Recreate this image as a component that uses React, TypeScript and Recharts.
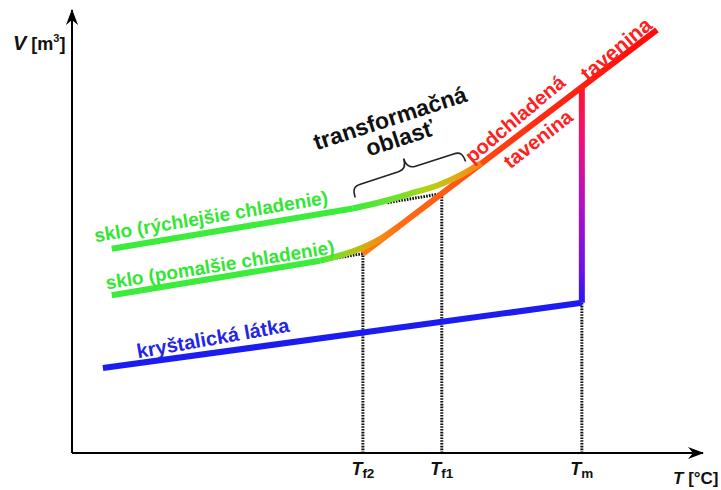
import React from 'react';
import { ComposedChart, Line, XAxis, YAxis, ReferenceDot } from 'recharts';

const FONT = '"Liberation Sans", Arial, Helvetica, sans-serif';

// ---- data (T in relative units, V in relative units) ----
const fastGlass = [
  { t: 6.3, v: 46.1 },
  { t: 44.5, v: 55.2 },
];
const fastCurve = [
  { t: 44.5, v: 55.2 },
  { t: 48.8, v: 56.6 },
  { t: 53.5, v: 58.5 },
  { t: 58.6, v: 60.8 },
  { t: 61.8, v: 62.9 },
  { t: 64.8, v: 65.4 },
];
const slowGlass = [
  { t: 6.3, v: 35.6 },
  { t: 39.3, v: 43.4 },
];
const slowCurve = [
  { t: 39.3, v: 43.4 },
  { t: 42.5, v: 44.6 },
  { t: 46.1, v: 46.4 },
  { t: 48.8, v: 48.3 },
  { t: 51.6, v: 51.0 },
];
const meltLine = [
  { t: 46.1, v: 45.0 },
  { t: 92.7, v: 95.5 },
];
const crystal = [
  { t: 4.9, v: 19.2 },
  { t: 80.8, v: 33.9 },
];
const meltingJump = [
  { t: 80.8, v: 33.9 },
  { t: 80.8, v: 82.6 },
];
const dropTf2 = [
  { t: 46.1, v: 0 },
  { t: 46.1, v: 45.0 },
];
const dropTf1 = [
  { t: 58.6, v: 0 },
  { t: 58.6, v: 58.55 },
];
const dropTm = [
  { t: 80.8, v: 0 },
  { t: 80.8, v: 33.9 },
];
const extFast = [
  { t: 50.0, v: 56.5 },
  { t: 58.6, v: 58.55 },
];
const extSlow = [
  { t: 41.0, v: 43.8 },
  { t: 46.1, v: 45.0 },
];

const tickValues = [46.1, 58.6, 80.8];
const tickSubs = ['f2', 'f1', 'm'];

const labelTexts = [
  'sklo (rýchlejšie chladenie)',
  'sklo (pomalšie chladenie)',
  'kryštalická látka',
  'transformačná',
  'oblasť',
  'podchladená',
  'tavenina',
  'tavenina',
];
const labelAnchors = [
  { t: 22.03, v: 53.36 },
  { t: 23.45, v: 42.44 },
  { t: 22.34, v: 25.96 },
  { t: 50.4, v: 75.62 },
  { t: 51.98, v: 71.1 },
  { t: 70.2, v: 75.4 },
  { t: 86.2, v: 91.2 },
  { t: 73.85, v: 70.9 },
];
const braceAnchor = { t: 53.09, v: 64.1 };
const yLabelAnchor = { t: -9.35, v: 90.97 };
const xLabelAnchor = { t: 95.25, v: -7.0 };

// ---- styles ----
const GREEN_TXT = '#33e633';
const GREEN = '#3bec3b';
const RED = '#ff2020';
const BLUE_TXT = '#2424e8';
const BLUE = '#1c1cf0';
const labelStyles = [
  { color: GREEN_TXT, size: 19, angle: -9.4 },
  { color: GREEN_TXT, size: 19, angle: -9 },
  { color: BLUE_TXT, size: 20, angle: -10 },
  { color: '#111', size: 23, angle: -18 },
  { color: '#111', size: 23, angle: -18 },
  { color: RED, size: 20, angle: -40 },
  { color: RED, size: 21, angle: -40 },
  { color: RED, size: 20, angle: -38 },
];

const makeLabel = (i: number) => (p: any) => {
  const s = labelStyles[i];
  return (
    <g transform={`translate(${p.cx},${p.cy}) rotate(${s.angle})`}>
      <text
        textAnchor="middle"
        dominantBaseline="central"
        fontFamily={FONT}
        fontWeight="bold"
        fontSize={s.size}
        fill={s.color}
      >
        {labelTexts[i]}
      </text>
    </g>
  );
};

const braceShape = (p: any) => (
  <g transform={`translate(${p.cx},${p.cy}) rotate(-18)`}>
    <path
      d="M -58 11 C -58 3, -56 0, -49 0 L -9 0 C -3 0, 0 -4, 0 -11 C 0 -4, 3 0, 9 0 L 49 0 C 56 0, 58 3, 58 11"
      fill="none"
      stroke="#222"
      strokeWidth={1.6}
    />
  </g>
);

const yLabelShape = (p: any) => (
  <text x={p.cx} y={p.cy} fontFamily={FONT} fontWeight="bold" fontSize={18} fill="#111">
    <tspan fontStyle="italic" fontSize={20}>V</tspan>
    <tspan> [m</tspan>
    <tspan fontSize={11} dy={-8}>3</tspan>
    <tspan dy={8}>]</tspan>
  </text>
);

const xLabelShape = (p: any) => (
  <text x={p.cx} y={p.cy} fontFamily={FONT} fontWeight="bold" fontSize={17} fill="#111">
    <tspan fontStyle="italic">T</tspan>
    <tspan> [°C]</tspan>
  </text>
);

const renderTick = (props: any) => {
  const { x, y, index } = props;
  return (
    <text x={x} y={y + 22} textAnchor="middle" fontFamily={FONT} fontWeight="bold" fill="#111">
      <tspan fontStyle="italic" fontSize={18}>T</tspan>
      <tspan fontSize={13.5} dy={3}>{tickSubs[index]}</tspan>
    </text>
  );
};

const dotted = { stroke: '#111', strokeWidth: 3, strokeDasharray: '1.6 1.2' };

export default function App() {
  return (
    <div style={{ position: 'absolute', left: 0, top: 0, background: '#fff' }}>
      <ComposedChart width={721} height={490} margin={{ top: 10, right: 18, bottom: 0, left: 0 }}>
        <defs>
          <marker
            id="arrow"
            viewBox="0 0 16 12"
            refX="15"
            refY="6"
            markerWidth="16"
            markerHeight="12"
            markerUnits="userSpaceOnUse"
            orient="auto-start-reverse"
          >
            <path d="M0,0 L16,6 L0,12 L5,6 Z" fill="#000" />
          </marker>
          <linearGradient id="gMelt" x1="0" y1="0" x2="1" y2="0">
            <stop offset="0" stopColor="#ff7a12" />
            <stop offset="0.3" stopColor="#ff5a12" />
            <stop offset="0.6" stopColor="#ff2a12" />
            <stop offset="1" stopColor="#ff0a0a" />
          </linearGradient>
          <linearGradient id="gJump" gradientUnits="userSpaceOnUse" x1="0" y1="87" x2="0" y2="303">
            <stop offset="0" stopColor="#ff1530" />
            <stop offset="0.25" stopColor="#f01075" />
            <stop offset="0.55" stopColor="#b010c8" />
            <stop offset="0.85" stopColor="#6a12e8" />
            <stop offset="1" stopColor="#2a18f0" />
          </linearGradient>
          <linearGradient id="gFast" x1="0" y1="0" x2="1" y2="0">
            <stop offset="0" stopColor={GREEN} />
            <stop offset="0.35" stopColor="#70e030" />
            <stop offset="0.6" stopColor="#b8d010" />
            <stop offset="0.82" stopColor="#e0a818" />
            <stop offset="1" stopColor="#ff8012" />
          </linearGradient>
          <linearGradient id="gSlow" x1="0" y1="0" x2="1" y2="0">
            <stop offset="0" stopColor={GREEN} />
            <stop offset="0.3" stopColor="#90d820" />
            <stop offset="0.55" stopColor="#d0b010" />
            <stop offset="0.8" stopColor="#f88a12" />
            <stop offset="1" stopColor="#ff7012" />
          </linearGradient>
        </defs>
        <XAxis
          type="number"
          dataKey="t"
          domain={[0, 100]}
          ticks={tickValues}
          interval={0}
          tick={renderTick}
          tickLine={false}
          tickSize={0}
          tickMargin={0}
          height={37}
          axisLine={{ stroke: '#000', strokeWidth: 2, markerEnd: 'url(#arrow)' }}
        />
        <YAxis
          type="number"
          dataKey="v"
          domain={[0, 100]}
          width={72}
          tick={false}
          tickLine={false}
          axisLine={{ stroke: '#000', strokeWidth: 2, markerStart: 'url(#arrow)' }}
        />

        <Line data={dropTf2} dataKey="v" {...dotted} dot={false} activeDot={false} isAnimationActive={false} />
        <Line data={dropTf1} dataKey="v" {...dotted} dot={false} activeDot={false} isAnimationActive={false} />
        <Line data={dropTm} dataKey="v" {...dotted} dot={false} activeDot={false} isAnimationActive={false} />
        <Line data={extFast} dataKey="v" {...dotted} dot={false} activeDot={false} isAnimationActive={false} />
        <Line data={extSlow} dataKey="v" {...dotted} dot={false} activeDot={false} isAnimationActive={false} />

        <Line data={crystal} dataKey="v" stroke={BLUE} strokeWidth={6} dot={false} activeDot={false} isAnimationActive={false} />
        <Line data={meltingJump} dataKey="v" stroke="url(#gJump)" strokeWidth={6} dot={false} activeDot={false} isAnimationActive={false} />
        <Line data={meltLine} dataKey="v" stroke="url(#gMelt)" strokeWidth={6} dot={false} activeDot={false} isAnimationActive={false} />
        <Line data={fastGlass} dataKey="v" stroke={GREEN} strokeWidth={6} dot={false} activeDot={false} isAnimationActive={false} />
        <Line data={slowGlass} dataKey="v" stroke={GREEN} strokeWidth={6} dot={false} activeDot={false} isAnimationActive={false} />
        <Line data={fastCurve} dataKey="v" type="monotone" stroke="url(#gFast)" strokeWidth={6} dot={false} activeDot={false} isAnimationActive={false} />
        <Line data={slowCurve} dataKey="v" type="monotone" stroke="url(#gSlow)" strokeWidth={6} dot={false} activeDot={false} isAnimationActive={false} />

        {labelAnchors.map((a, i) => (
          <ReferenceDot key={i} x={a.t} y={a.v} r={0} ifOverflow="visible" shape={makeLabel(i)} />
        ))}
        <ReferenceDot x={braceAnchor.t} y={braceAnchor.v} r={0} ifOverflow="visible" shape={braceShape} />
        <ReferenceDot x={yLabelAnchor.t} y={yLabelAnchor.v} r={0} ifOverflow="visible" shape={yLabelShape} />
        <ReferenceDot x={xLabelAnchor.t} y={xLabelAnchor.v} r={0} ifOverflow="visible" shape={xLabelShape} />
      </ComposedChart>
    </div>
  );
}
